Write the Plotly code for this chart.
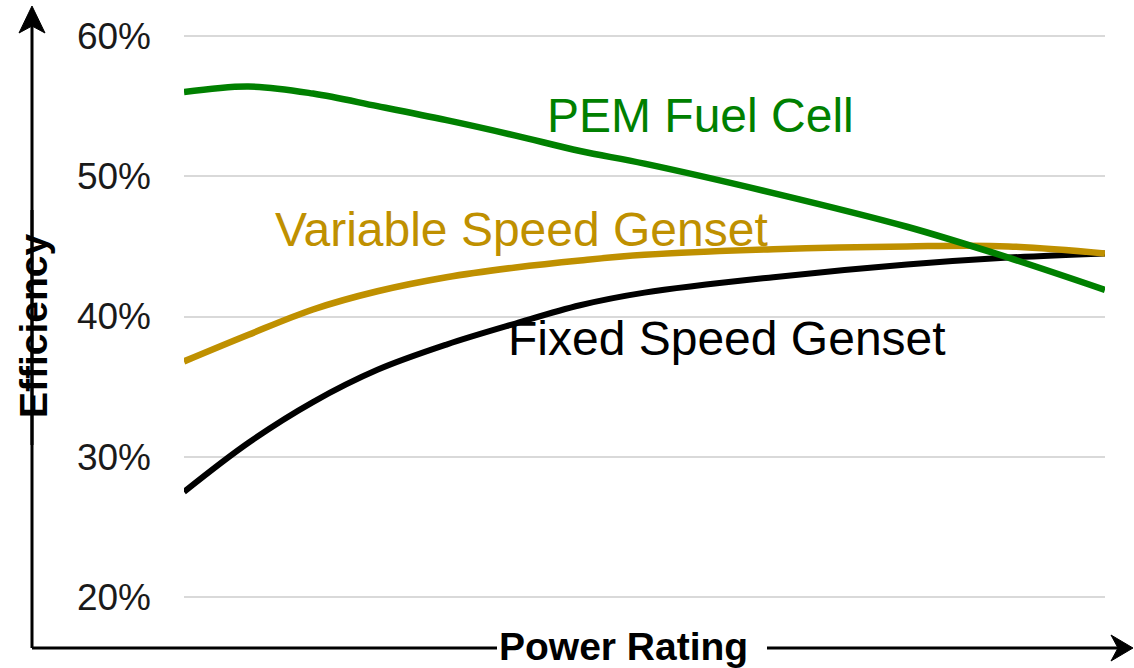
import plotly.graph_objects as go

# Power rating (relative, 0-100) and efficiency (%)
x_pos = [0, 7, 14, 21, 28.5, 36, 43, 50, 64, 78.5, 89.5, 100]
pem_fuel_cell = [56.0, 56.4, 55.9, 55.0, 54.0, 52.9, 51.8, 50.9, 48.8, 46.4, 44.2, 41.9]
variable_speed = [36.8, 38.7, 40.5, 41.8, 42.8, 43.5, 44.0, 44.4, 44.8, 45.0, 45.0, 44.5]
fixed_speed = [27.5, 31.0, 33.9, 36.2, 38.0, 39.5, 40.8, 41.7, 42.8, 43.7, 44.2, 44.5]
y_ticks = [20, 30, 40, 50, 60]
y_tick_labels = ["20%", "30%", "40%", "50%", "60%"]

GREEN = "#008000"
GOLD = "#BF9000"
BLACK = "#000000"
FONT = "Liberation Sans, Arial, sans-serif"

W, H = 1134, 668
L, R, T, B = 184, 29, 22, 57
PW, PH = W - L - R, H - T - B


def px(x):
    return (x - L) / PW


def py(y):
    return (H - B - y) / PH


fig = go.Figure()
for name, ys, col, w in [
    ("Fixed Speed Genset", fixed_speed, BLACK, 6),
    ("Variable Speed Genset", variable_speed, GOLD, 6.5),
    ("PEM Fuel Cell", pem_fuel_cell, GREEN, 6.5),
]:
    fig.add_trace(go.Scatter(x=x_pos, y=ys, mode="lines", name=name,
                             line=dict(color=col, width=w, shape="spline", smoothing=1.0)))

shapes = []
line_style = dict(color=BLACK, width=3)
for (x0, y0, x1, y1) in [(32, 648, 32, 210), (32, 445, 32, 26),
                         (32, 648, 497, 648), (767, 648, 1118, 648)]:
    shapes.append(dict(type="line", xref="paper", yref="paper",
                       x0=px(x0), y0=py(y0), x1=px(x1), y1=py(y1), line=line_style))


def path(pts):
    s = "M " + " L ".join(f"{px(a):.5f},{py(b):.5f}" for a, b in pts) + " Z"
    return s


shapes.append(dict(type="path", xref="paper", yref="paper",
                   path=path([(32, 6), (19, 33), (32, 26), (45, 33)]),
                   fillcolor=BLACK, line=dict(color=BLACK, width=1)))
shapes.append(dict(type="path", xref="paper", yref="paper",
                   path=path([(1133, 648), (1111, 635), (1118, 648), (1111, 661)]),
                   fillcolor=BLACK, line=dict(color=BLACK, width=1)))

annotations = [
    dict(text="PEM Fuel Cell", x=px(700), y=py(115), font=dict(size=48, color=GREEN, family=FONT)),
    dict(text="Variable Speed Genset", x=px(521), y=py(229), font=dict(size=48, color=GOLD, family=FONT)),
    dict(text="Fixed Speed Genset", x=px(727), y=py(338), font=dict(size=48, color=BLACK, family=FONT)),
    dict(text="<b>Power Rating</b>", x=px(623), y=py(646), font=dict(size=39, color=BLACK, family=FONT)),
    dict(text="<b>Efficiency</b>", x=px(33), y=py(326), textangle=-90,
         font=dict(size=39, color=BLACK, family=FONT)),
]
for a in annotations:
    a.update(xref="paper", yref="paper", showarrow=False, xanchor="center", yanchor="middle")

fig.update_layout(
    width=W, height=H,
    margin=dict(l=L, r=R, t=T, b=B, pad=0),
    plot_bgcolor="white", paper_bgcolor="white",
    showlegend=False,
    shapes=shapes, annotations=annotations,
    font=dict(family=FONT, color=BLACK),
    xaxis=dict(range=[0, 100], showgrid=False, showticklabels=False, zeroline=False,
               showline=False, ticks=""),
    yaxis=dict(range=[19, 61], tickvals=y_ticks, ticktext=y_tick_labels,
               showgrid=True, gridcolor="#D9D9D9", gridwidth=2, zeroline=False,
               showline=False, ticks="", ticklabelstandoff=32,
               tickfont=dict(size=37, color="#1a1a1a", family=FONT)),
)

fig.write_html("out.html", config={"displayModeBar": False},
               post_script="document.body.style.margin='0';document.body.style.overflow='hidden';")
